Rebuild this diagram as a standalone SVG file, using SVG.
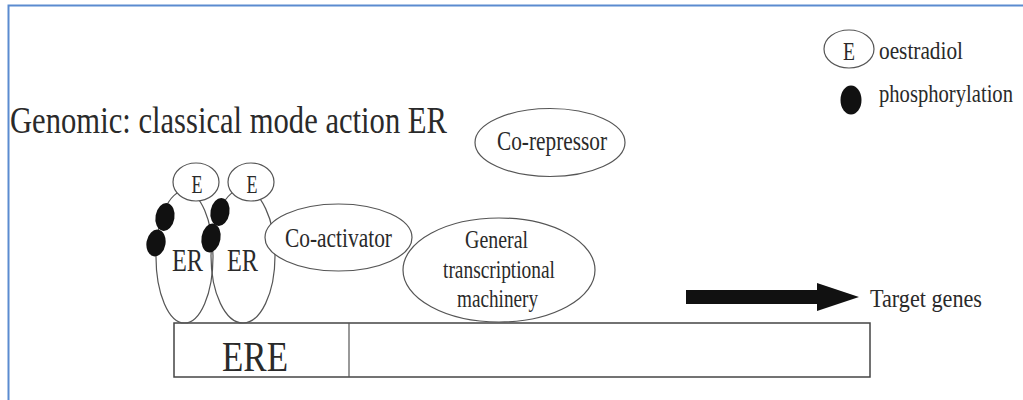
<svg xmlns="http://www.w3.org/2000/svg" width="1023" height="400" viewBox="0 0 1023 400">
<style>
text{font-family:"Liberation Serif","Times New Roman",serif;fill:#2a2a2a}
.ol{fill:#fff;stroke:#555;stroke-width:1.2}
.er{fill:none;stroke:#555;stroke-width:1.2}
.dot{fill:#111}
</style>
<rect x="0" y="0" width="1023" height="400" fill="#fff"/>
<path d="M8.5 400 V5.5 H1023" fill="none" stroke="#5b8bd0" stroke-width="2"/>
<text x="10" y="133" font-size="37" textLength="437" lengthAdjust="spacingAndGlyphs">Genomic: classical mode action ER</text>
<g id="legend-oestradiol">
<ellipse class="ol" cx="849" cy="49" rx="25" ry="19"/>
<text x="849" y="60" font-size="25" text-anchor="middle" textLength="12" lengthAdjust="spacingAndGlyphs">E</text>
<text x="879" y="59" font-size="26" textLength="84" lengthAdjust="spacingAndGlyphs">oestradiol</text>
</g>
<g id="legend-phosphorylation">
<ellipse class="dot" cx="851" cy="100" rx="10.5" ry="14.5"/>
<text x="879" y="102" font-size="26" textLength="134" lengthAdjust="spacingAndGlyphs">phosphorylation</text>
</g>
<g id="ere">
<rect x="174" y="323" width="696" height="54" fill="#fff" stroke="#444" stroke-width="1.5"/>
<line x1="349" y1="323" x2="349" y2="377" stroke="#555" stroke-width="1.2"/>
<text x="255" y="371" font-size="42" text-anchor="middle" textLength="66" lengthAdjust="spacingAndGlyphs">ERE</text>
</g>
<g id="er-left">
<ellipse class="er" cx="184.5" cy="257" rx="28.5" ry="66"/>
<text x="187.5" y="271" font-size="31" text-anchor="middle" textLength="31" lengthAdjust="spacingAndGlyphs">ER</text>
</g>
<g id="er-right">
<ellipse class="er" cx="243" cy="256" rx="32" ry="67"/>
<text x="242.5" y="271" font-size="31" text-anchor="middle" textLength="31" lengthAdjust="spacingAndGlyphs">ER</text>
</g>
<g id="e-left">
<ellipse class="ol" cx="196" cy="182" rx="23" ry="19"/>
<text x="197" y="193" font-size="25" text-anchor="middle" textLength="11" lengthAdjust="spacingAndGlyphs">E</text>
</g>
<g id="e-right">
<ellipse class="ol" cx="251" cy="182" rx="23" ry="19"/>
<text x="252" y="193" font-size="25" text-anchor="middle" textLength="11" lengthAdjust="spacingAndGlyphs">E</text>
</g>
<g id="phospho">
<ellipse class="dot" cx="165" cy="217" rx="9.5" ry="14" transform="rotate(10 165 217)"/>
<ellipse class="dot" cx="156" cy="243" rx="9.5" ry="13.5" transform="rotate(10 156 243)"/>
<ellipse class="dot" cx="220" cy="212" rx="9.5" ry="14" transform="rotate(10 220 212)"/>
<ellipse class="dot" cx="211" cy="238" rx="9.5" ry="14.5" transform="rotate(10 211 238)"/>
</g>
<g id="co-activator">
<ellipse class="ol" cx="338.5" cy="237.5" rx="73.5" ry="33.5"/>
<text x="338.5" y="247" font-size="28" text-anchor="middle" textLength="107" lengthAdjust="spacingAndGlyphs">Co-activator</text>
</g>
<g id="gtm">
<ellipse class="ol" cx="499" cy="270" rx="96" ry="52"/>
<text x="496.5" y="248" font-size="26" text-anchor="middle" textLength="63" lengthAdjust="spacingAndGlyphs">General</text>
<text x="499" y="278" font-size="26" text-anchor="middle" textLength="112" lengthAdjust="spacingAndGlyphs">transcriptional</text>
<text x="497.5" y="307" font-size="26" text-anchor="middle" textLength="81" lengthAdjust="spacingAndGlyphs">machinery</text>
</g>
<g id="co-repressor">
<ellipse class="ol" cx="550" cy="142.5" rx="75" ry="34"/>
<text x="552" y="150" font-size="28" text-anchor="middle" textLength="110" lengthAdjust="spacingAndGlyphs">Co-repressor</text>
</g>
<g id="connectors">
<polygon points="686,290 817,290 817,283 859,297 817,311 817,304 686,304" fill="#111"/>
</g>
<text x="870" y="307" font-size="26" textLength="112" lengthAdjust="spacingAndGlyphs">Target genes</text>
</svg>
